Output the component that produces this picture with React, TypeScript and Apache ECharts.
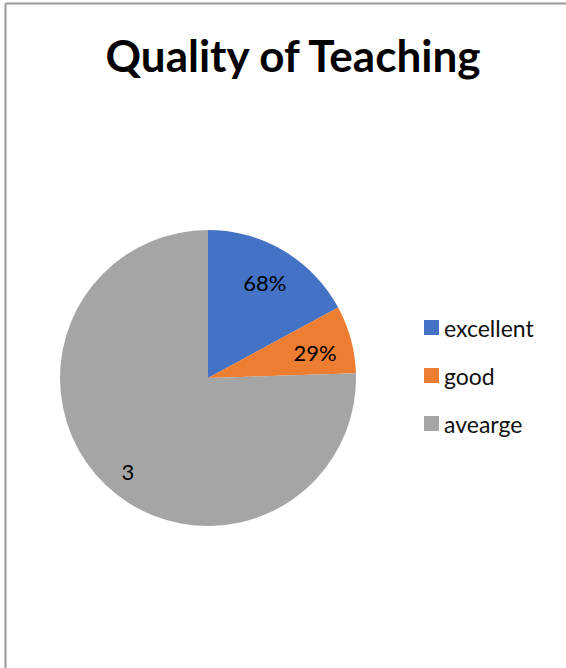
import React, { useEffect, useRef } from "react";
import * as echarts from "echarts";

const categories = ["excellent", "good", "avearge"];
const sliceValues = [17.1, 7.4, 75.5];
const sliceLabels = ["68%", "29%", "3"];
const colors = ["#4472C4", "#ED7D31", "#A5A5A5"];

export default function App() {
  const ref = useRef<HTMLDivElement>(null);
  useEffect(() => {
    if (!ref.current) return;
    const chart = echarts.init(ref.current, undefined, { renderer: "svg" });
    const font = "Lato, 'Open Sans', sans-serif";
    chart.setOption({
      animation: false,
      title: {
        text: "Quality of Teaching",
        left: 288,
        top: 28,
        textAlign: "center",
        textStyle: { fontFamily: font, fontWeight: "bold", fontSize: 44, color: "#000" },
      },
      legend: {
        orient: "vertical",
        left: 424,
        top: 316,
        padding: 0,
        itemWidth: 15,
        itemHeight: 15,
        itemGap: 25,
        icon: "rect",
        data: categories,
        textStyle: { fontFamily: font, fontSize: 23, color: "#111" },
      },
      graphic: [
        { type: "line", shape: { x1: 5.5, y1: 3.5, x2: 566, y2: 3.5 }, style: { stroke: "#9a9a9a", lineWidth: 2 } },
        { type: "line", shape: { x1: 5.5, y1: 3.5, x2: 5.5, y2: 668 }, style: { stroke: "#9a9a9a", lineWidth: 2 } },
      ],
      series: [
        {
          type: "pie",
          center: [208, 378],
          radius: [0, 148],
          startAngle: 90,
          clockwise: true,
          label: { show: false },
          labelLine: { show: false },
          itemStyle: { borderWidth: 0 },
          data: categories.map((c, i) => ({ name: c, value: sliceValues[i], itemStyle: { color: colors[i] } })),
        },
        {
          type: "pie",
          center: [208, 378],
          radius: [68, 148],
          startAngle: 90,
          clockwise: true,
          silent: true,
          legendHoverLink: false,
          itemStyle: { color: "transparent", borderWidth: 0 },
          label: {
            show: true,
            position: "inside",
            fontFamily: font,
            fontSize: 22,
            color: "#000",
            formatter: (p: any) => sliceLabels[p.dataIndex],
          },
          labelLine: { show: false },
          data: categories.map((c, i) => ({
            name: c + "_label",
            value: sliceValues[i],
            label: i === 2 ? { offset: [-3, 14] } : i === 1 ? { offset: [0, 3] } : {},
          })),
        },
      ],
    });
    return () => chart.dispose();
  }, []);
  return <div ref={ref} style={{ position: "absolute", left: 0, top: 0, width: 566, height: 668 }} />;
}
